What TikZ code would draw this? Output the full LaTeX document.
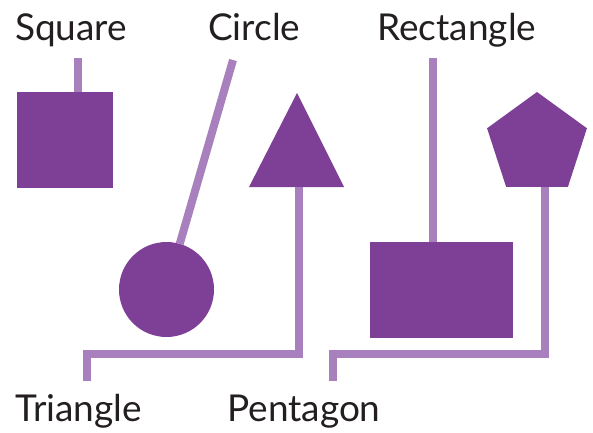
\documentclass[tikz,border=0pt]{standalone}
\usepackage{fontspec}
\setmainfont{Lato}
\usepackage{tikz}
\usetikzlibrary{shapes.geometric}
\definecolor{shapefill}{RGB}{126, 63, 150}
\definecolor{linkline}{RGB}{167, 128, 189}
\definecolor{labeltext}{RGB}{35, 31, 32}

\begin{document}
\begin{tikzpicture}[x=1pt, y=-1pt,
    figure/.style={fill=shapefill, draw=none, inner sep=0pt, outer sep=0pt},
    link/.style={draw=linkline, line width=8pt},
    word/.style={anchor=base west, inner sep=0pt, text=labeltext, font=\fontsize{37}{40}\selectfont}]
  \useasboundingbox (0,0) rectangle (593,432);
  % labels
  \node[word] (square label) at (15,40) {Square};
  \node[word] (round label) at (208,40) {Circle};
  \node[word] (rect label) at (377,40) {Rectangle};
  \node[word] (tri label) at (15,421) {Triangle};
  \node[word] (penta label) at (227,421) {Pentagon};
  % shapes
  \node[figure, minimum size=96pt] (square) at (65,140) {};
  \node[figure, circle, minimum size=95pt] (round) at (166.5,289.5) {};
  \node[figure, minimum width=143pt, minimum height=96pt] (rectangle) at (441.5,290) {};
  \node[figure, regular polygon, regular polygon sides=5, minimum size=105pt] (pentagon) at (537,144.5) {};
  \fill[shapefill] (249,187) -- (344,187) -- (297,93) -- cycle;
  % line ends
  \coordinate (sq top) at (78,58);
  \coordinate (ro top) at (233,60);
  \coordinate (re top) at (433,58);
  \coordinate (tri foot) at (299,187);
  \coordinate (tri end) at (87,381);
  \coordinate (pe foot) at ([xshift=7.5pt]pentagon.south);
  \coordinate (pe end) at (333,381);
  % connectors
  \draw[link] (sq top) -- (sq top |- square.north);
  \draw[link] (ro top) -- (round);
  \draw[link] (re top) -- (re top |- rectangle.north);
  \draw[link] (tri foot) -- (299,354) -| (tri end);
  \draw[link] (pe foot) -- (pe foot |- 0,354) -| (pe end);
\end{tikzpicture}
\end{document}
